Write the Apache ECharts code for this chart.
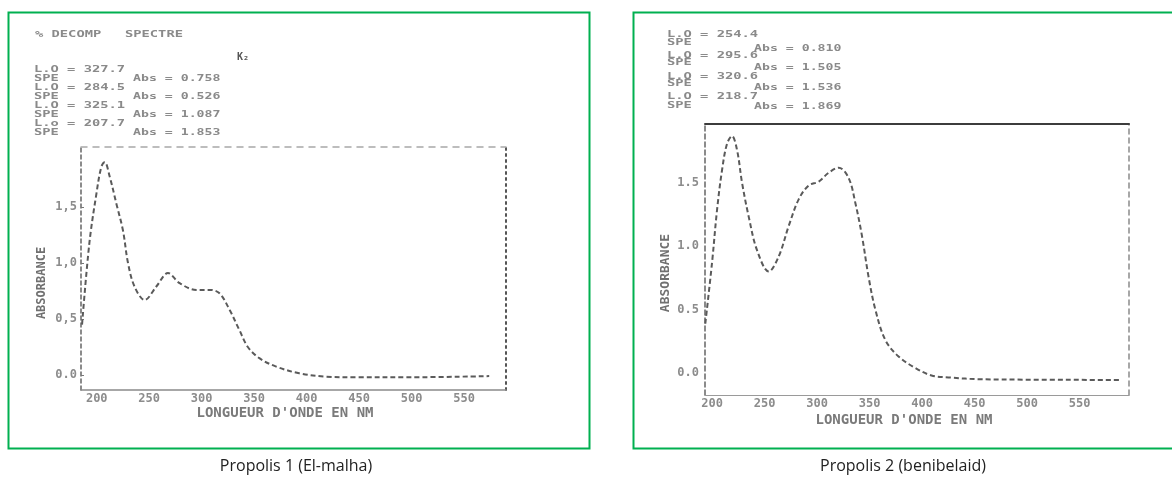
<!DOCTYPE html>
<html>
<head>
<meta charset="utf-8">
<script src="https://cdn.jsdelivr.net/npm/echarts@6/dist/echarts.min.js"></script>
<style>
  html, body { margin: 0; padding: 0; background: #fff; }
  #spectra { width: 1172px; height: 482px; }
</style>
</head>
<body>
<div id="spectra"></div>
<script>
// Propolis 1 (El-malha) : longueur d'onde (nm) / absorbance
var wavelength1 = [186, 193, 199.7, 204.4, 207.6, 212.4, 218.7, 225, 229.8, 236, 245.7, 256.8, 267.9, 279, 294.9, 307.6, 317, 326.7, 336, 344, 355, 371, 393, 418.8, 447, 498, 574]
var absorbance1 = [0.45, 1.18, 1.62, 1.86, 1.90, 1.77, 1.53, 1.29, 1.0, 0.79, 0.67, 0.79, 0.91, 0.82, 0.76, 0.76, 0.73, 0.58, 0.40, 0.25, 0.15, 0.075, 0.015, -0.015, -0.02, -0.02, -0.01]

// Propolis 2 (benibelaid)
var wavelength2 = [193.6, 200, 204.8, 209.5, 214.3, 219, 223.8, 228.6, 235, 242.8, 254, 263.5, 273, 282.5, 292, 301.6, 311, 320.6, 330, 336.5, 342.8, 349, 355.5, 365, 377.6, 393.4, 409, 425, 457, 590]
var absorbance2 = [0.39, 0.87, 1.29, 1.60, 1.81, 1.87, 1.76, 1.50, 1.23, 0.97, 0.80, 0.92, 1.16, 1.37, 1.48, 1.51, 1.58, 1.62, 1.54, 1.34, 1.08, 0.76, 0.50, 0.26, 0.13, 0.04, -0.02, -0.035, -0.05, -0.055]

var xTicks = [200, 250, 300, 350, 400, 450, 500, 550]
var yTicks = [0, 0.5, 1.0, 1.5]
var yTickLabels1 = ['0.0', '0,5', '1,0', '1,5']
var yTickLabels2 = ['0.0', '0.5', '1.0', '1.5']

// printout text above each spectrum
var header1 = ['L.O = 327.7', 'L.O = 284.5', 'L.O = 325.1', 'L.o = 207.7']
var headerAbs1 = ['Abs = 0.758', 'Abs = 0.526', 'Abs = 1.087', 'Abs = 1.853']
var header2 = ['L.O = 254.4', 'L.O = 295.6', 'L.O = 320.6', 'L.O = 218.7']
var headerAbs2 = ['Abs = 0.810', 'Abs = 1.505', 'Abs = 1.536', 'Abs = 1.869']

function pairs(xs, ys) {
  return xs.map(function (x, i) { return [x, ys[i]] })
}

var mono = 'DejaVu Sans Mono'
var tickLabel = { color: '#8c8c8c', fontFamily: mono, fontSize: 12, fontWeight: 'bold' }

function frameAxis(grid, pos, line) {
  return {
    gridIndex: grid, type: 'value', position: pos,
    axisLine: { show: true, onZero: false, lineStyle: line },
    axisTick: { show: false }, axisLabel: { show: false }, splitLine: { show: false }
  }
}

var myChart = echarts.init(document.getElementById('spectra'))

var graphics = [
  { type: 'rect', shape: { x: 8.5, y: 12.5, width: 581, height: 436 }, style: { fill: null, stroke: '#00b050', lineWidth: 2 } },
  { type: 'rect', shape: { x: 633.5, y: 12.5, width: 600, height: 436 }, style: { fill: null, stroke: '#00b050', lineWidth: 2 } },
  { type: 'text', x: 296, y: 466, style: { text: 'Propolis 1 (El-malha)', font: '16px "Open Sans"', fill: '#222', align: 'center', verticalAlign: 'middle' } },
  { type: 'text', x: 903, y: 466, style: { text: 'Propolis 2 (benibelaid)', font: '16px "Open Sans"', fill: '#222', align: 'center', verticalAlign: 'middle' } },
  // axis titles
  { type: 'text', x: 42, y: 283, rotation: Math.PI / 2, style: { text: 'ABSORBANCE', font: 'bold 12px "DejaVu Sans Mono"', fill: '#707070', align: 'center', verticalAlign: 'middle' } },
  { type: 'text', x: 666, y: 273, rotation: Math.PI / 2, style: { text: 'ABSORBANCE', font: 'bold 13px "DejaVu Sans Mono"', fill: '#707070', align: 'center', verticalAlign: 'middle' } },
  { type: 'text', x: 285, y: 413, style: { text: "LONGUEUR D'ONDE EN NM", font: 'bold 14px "DejaVu Sans Mono"', fill: '#7a7a7a', align: 'center', verticalAlign: 'middle' } },
  { type: 'text', x: 904, y: 420, style: { text: "LONGUEUR D'ONDE EN NM", font: 'bold 14px "DejaVu Sans Mono"', fill: '#7a7a7a', align: 'center', verticalAlign: 'middle' } },
  // top line of the first printout
  { type: 'text', x: 35, y: 35, scaleX: 1.25, scaleY: 0.8, style: { text: '% DECOMP', font: 'bold 11px "DejaVu Sans Mono"', fill: '#8a8a8a', verticalAlign: 'middle' } },
  { type: 'text', x: 125, y: 35, scaleX: 1.25, scaleY: 0.8, style: { text: 'SPECTRE', font: 'bold 11px "DejaVu Sans Mono"', fill: '#8a8a8a', verticalAlign: 'middle' } },
  { type: 'text', x: 243, y: 57, style: { text: 'K\u2082', font: 'bold 10px "DejaVu Sans Mono"', fill: '#555', align: 'center', verticalAlign: 'middle' } }
]

function addHeader(lines, absLines, x0, xAbs, rows) {
  lines.forEach(function (t, i) {
    graphics.push({ type: 'text', x: x0, y: rows[i][0], scaleX: 1.25, scaleY: 0.8,
      style: { text: t, font: 'bold 11px "DejaVu Sans Mono"', fill: '#8a8a8a', verticalAlign: 'middle' } })
    graphics.push({ type: 'text', x: x0, y: rows[i][1], scaleX: 1.25, scaleY: 0.8,
      style: { text: 'SPE', font: 'bold 11px "DejaVu Sans Mono"', fill: '#8a8a8a', verticalAlign: 'middle' } })
    graphics.push({ type: 'text', x: xAbs, y: rows[i][2], scaleX: 1.2, scaleY: 0.8,
      style: { text: absLines[i], font: 'bold 11px "DejaVu Sans Mono"', fill: '#8a8a8a', verticalAlign: 'middle' } })
  })
}
addHeader(header1, headerAbs1, 34, 133, [[70, 79, 79], [88, 97, 97], [106, 115, 115], [124, 133, 133]])
addHeader(header2, headerAbs2, 667, 754, [[35, 43, 49], [56, 63, 68], [77, 84, 88], [97, 106, 107]])

var option = {
  animation: false,
  backgroundColor: '#fff',
  grid: [
    { left: 81, top: 147, width: 425, height: 243 },
    { left: 705, top: 124, width: 424, height: 271 }
  ],
  xAxis: [
    {
      gridIndex: 0, type: 'value', min: 185, max: 590,
      axisLine: { onZero: false, lineStyle: { color: '#8a8a8a', width: 1.5 } },
      axisTick: { show: false }, splitLine: { show: false },
      axisLabel: Object.assign({ customValues: xTicks, margin: 3 }, tickLabel)
    },
    frameAxis(0, 'top', { color: '#a8a8a8', width: 1.5, type: [6, 6] }),
    {
      gridIndex: 1, type: 'value', min: 193.3, max: 597,
      axisLine: { onZero: false, lineStyle: { color: '#9a9a9a', width: 1.2 } },
      axisTick: { show: false }, splitLine: { show: false },
      axisLabel: Object.assign({ customValues: xTicks, margin: 3 }, tickLabel)
    },
    frameAxis(1, 'top', { color: '#3c3c3c', width: 2 })
  ],
  yAxis: [
    {
      gridIndex: 0, type: 'value', min: -0.134, max: 2.036,
      axisLine: { show: true, onZero: false, lineStyle: { color: '#666', width: 1.5, type: [4, 3] } },
      axisTick: { show: true, inside: true, length: 3, customValues: yTicks, lineStyle: { color: '#777' } },
      splitLine: { show: false },
      axisLabel: Object.assign({ customValues: yTicks, margin: 4, formatter: function (v) { return yTickLabels1[yTicks.indexOf(v)] } }, tickLabel)
    },
    frameAxis(0, 'right', { color: '#555', width: 2, type: [2, 4] }),
    {
      gridIndex: 1, type: 'value', min: -0.174, max: 1.965,
      axisLine: { show: true, onZero: false, lineStyle: { color: '#666', width: 1.5, type: [5, 3] } },
      axisTick: { show: false }, splitLine: { show: false },
      axisLabel: Object.assign({ customValues: yTicks, margin: 6, formatter: function (v) { return yTickLabels2[yTicks.indexOf(v)] } }, tickLabel)
    },
    frameAxis(1, 'right', { color: '#8a8a8a', width: 1.5, type: [5, 4] })
  ],
  series: [
    {
      name: 'Propolis 1', type: 'line', xAxisIndex: 0, yAxisIndex: 0,
      data: pairs(wavelength1, absorbance1), smooth: 0.35, showSymbol: false,
      lineStyle: { color: '#5a5a5a', width: 2, type: [5, 3] }
    },
    {
      name: 'Propolis 2', type: 'line', xAxisIndex: 2, yAxisIndex: 2,
      data: pairs(wavelength2, absorbance2), smooth: 0.35, showSymbol: false,
      lineStyle: { color: '#5a5a5a', width: 2, type: [5, 3] }
    }
  ],
  graphic: graphics
}
myChart.setOption(option)
</script>
</body>
</html>
